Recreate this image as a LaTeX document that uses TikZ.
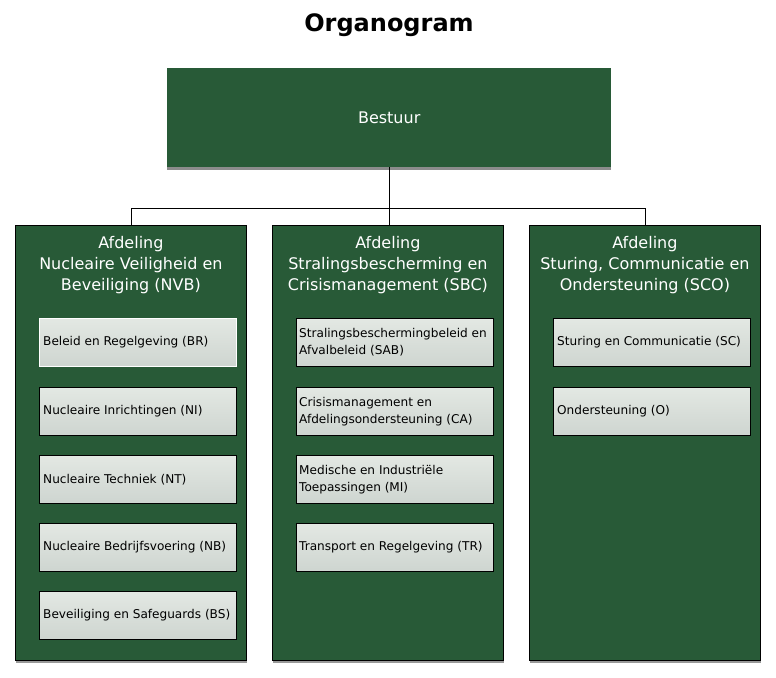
\documentclass[tikz,border=0pt]{standalone}
\usepackage{fontspec}
\setmainfont{DejaVu Sans}
\usetikzlibrary{shadows}
\definecolor{dgreen}{HTML}{285A37}
\definecolor{subtop}{HTML}{E3E8E3}
\definecolor{subbot}{HTML}{CED5D0}
\tikzset{
  mainbox/.style={fill=dgreen, draw=none, anchor=north west, inner sep=0pt,
    drop shadow={shadow xshift=0pt, shadow yshift=-3pt, fill=black!45, opacity=1}},
  colbox/.style={fill=dgreen, draw=black, line width=0.8pt, anchor=north west, inner sep=0pt,
    minimum width=231pt, minimum height=435pt,
    drop shadow={shadow xshift=1pt, shadow yshift=-3pt, fill=black!40, opacity=1}},
  coltext/.style={text=white, align=center, anchor=north, inner sep=0pt,
    font=\fontsize{16}{21}\selectfont},
  subbox/.style={top color=subtop, bottom color=subbot, draw=black, line width=0.8pt,
    anchor=north west, minimum width=197pt, minimum height=48pt, inner sep=0pt},
  subtext/.style={anchor=west, align=left, inner sep=0pt, text=black,
    font=\fontsize{12.1}{17}\selectfont},
  conn/.style={draw=black, line width=0.8pt}
}
\begin{document}
\begin{tikzpicture}[x=1pt,y=-1pt]
\useasboundingbox[fill=white] (0,0) rectangle (776,677);
\node[font=\fontsize{24}{28}\bfseries\selectfont, anchor=center] (title) at (389,25) {Organogram};
\node[mainbox, minimum width=444pt, minimum height=99pt] (bestuur) at (167,68) {};
\node[text=white, font=\fontsize{16}{20}\selectfont] (bestuurtxt) at (bestuur.center) {Bestuur};
% columns
\node[colbox] (nvb) at (15,225) {};
\node[colbox] (sbc) at (272,225) {};
\node[colbox] (sco) at (529,225) {};
\node[coltext] (nvbtxt) at ([yshift=-11pt]nvb.north) {Afdeling\\Nucleaire Veiligheid en\\Beveiliging (NVB)};
\node[coltext] (sbctxt) at ([yshift=-11pt]sbc.north) {Afdeling\\Stralingsbescherming en\\Crisismanagement (SBC)};
\node[coltext] (scotxt) at ([yshift=-11pt]sco.north) {Afdeling\\Sturing, Communicatie en\\Ondersteuning (SCO)};
% connectors
\coordinate (j) at ([yshift=-41pt]bestuur.south);
\draw[conn] (bestuur.south) -- (bestuur.south |- sbc.north);
\draw[conn] (j) -| (nvb.north);
\draw[conn] (j) -| (sco.north);
% sub boxes column 1
\node[subbox, draw=white] (br) at (39,318) {};
\node[subbox] (ni) at (39,387) {};
\node[subbox] (nt) at (39,455) {};
\node[subbox] (nb) at (39,523) {};
\node[subbox] (bs) at (39,591) {};
\node[subtext] at ([xshift=4pt]br.west) {Beleid en Regelgeving (BR)};
\node[subtext] at ([xshift=4pt]ni.west) {Nucleaire Inrichtingen (NI)};
\node[subtext] at ([xshift=4pt]nt.west) {Nucleaire Techniek (NT)};
\node[subtext] at ([xshift=4pt]nb.west) {Nucleaire Bedrijfsvoering (NB)};
\node[subtext] at ([xshift=4pt]bs.west) {Beveiliging en Safeguards (BS)};
% column 2
\node[subbox] (sab) at (296,318) {};
\node[subbox] (ca) at (296,387) {};
\node[subbox] (mi) at (296,455) {};
\node[subbox] (tr) at (296,523) {};
\node[subtext] at ([xshift=3pt]sab.west) {Stralingsbeschermingbeleid en\\Afvalbeleid (SAB)};
\node[subtext] at ([xshift=3pt]ca.west) {Crisismanagement en\\Afdelingsondersteuning (CA)};
\node[subtext] at ([xshift=3pt]mi.west) {Medische en Industriële\\Toepassingen (MI)};
\node[subtext] at ([xshift=3pt]tr.west) {Transport en Regelgeving (TR)};
% column 3
\node[subbox] (sc) at (553,318) {};
\node[subbox] (o) at (553,387) {};
\node[subtext] at ([xshift=4pt]sc.west) {Sturing en Communicatie (SC)};
\node[subtext] at ([xshift=4pt]o.west) {Ondersteuning (O)};
\end{tikzpicture}
\end{document}
